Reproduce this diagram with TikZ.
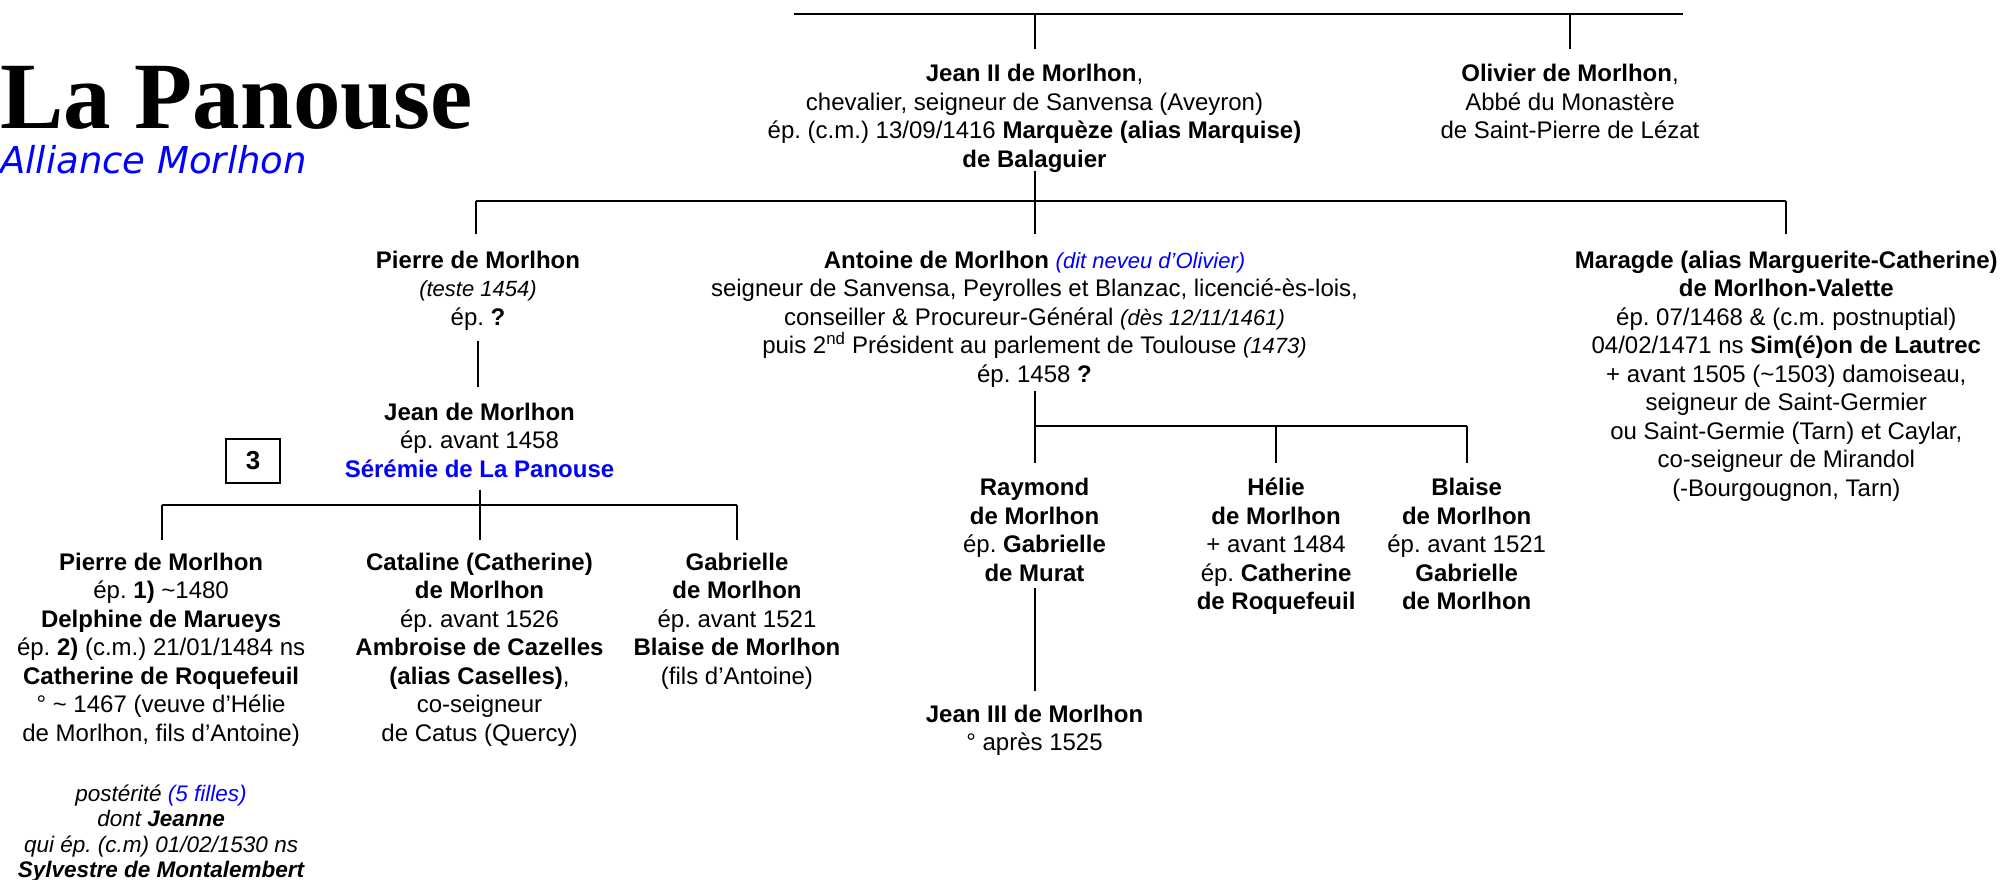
\documentclass[tikz,border=0pt]{standalone}
\usepackage{fontspec}
\setmainfont{Liberation Sans}
\newfontfamily\titlefont{Liberation Serif}
\newfontfamily\subtitlefont{DejaVu Sans}
\definecolor{pblue}{RGB}{0,0,255}
\newcommand{\nsize}{\fontsize{24}{28.5}\selectfont}
\newcommand{\note}[1]{{\fontsize{22}{28.5}\selectfont\itshape #1}}
\tikzset{
  person/.style={align=center, anchor=north, inner sep=0pt, font=\nsize},
  bar/.style={line width=2.6pt},
  drop/.style={line width=2pt},
}
\begin{document}
\frenchspacing
\begin{tikzpicture}[x=1pt,y=-1pt]
\path[use as bounding box, fill=white] (0,0) rectangle (2005,880);

% title
\node[anchor=base west, inner sep=0pt, text depth=0pt, font=\titlefont\bfseries\fontsize{95}{100}\selectfont] (title) at (0,129) {La Panouse};
\node[anchor=base west, inner sep=0pt, font=\subtitlefont\itshape\fontsize{37}{40}\selectfont, text=pblue] (subtitle) at (0,173) {Alliance Morlhon};

% box 3
\node[draw, line width=1.3pt, minimum width=54pt, minimum height=44pt, inner sep=0pt, font=\bfseries\fontsize{26}{28}\selectfont] (box3) at (253,461) {3};

% generation 1
\node[person] (jean2) at (1034.5,61.5) {\strut\textbf{Jean II de Morlhon},\\chevalier, seigneur de Sanvensa (Aveyron)\\ép. (c.m.) 13/09/1416 \textbf{Marquèze (alias Marquise)}\\\textbf{de Balaguier}};
\node[person] (olivier) at (1570,61.5) {\strut\textbf{Olivier de Morlhon},\\Abbé du Monastère\\de Saint-Pierre de Lézat};

% generation 2
\node[person] (pierre) at (478,248.2) {\strut\textbf{Pierre de Morlhon}\\\note{(teste 1454)}\\ép. \textbf{?}};
\node[person] (antoine) at (1034.5,248.2) {\strut\textbf{Antoine de Morlhon} {\color{pblue}\note{(dit neveu d’Olivier)}}\\seigneur de Sanvensa, Peyrolles et Blanzac, licencié-ès-lois,\\conseiller \& Procureur-Général \note{(dès 12/11/1461)}\\puis 2\textsuperscript{nd} Président au parlement de Toulouse \note{(1473)}\\ép. 1458 \textbf{?}};
\node[person] (maragde) at (1786.3,248.2) {\strut\textbf{Maragde (alias Marguerite-Catherine)}\\\textbf{de Morlhon-Valette}\\ép. 07/1468 \& (c.m. postnuptial)\\04/02/1471 ns \textbf{Sim(é)on de Lautrec}\\+ avant 1505 (\textasciitilde1503) damoiseau,\\seigneur de Saint-Germier\\ou Saint-Germie (Tarn) et Caylar,\\co-seigneur de Mirandol\\(-Bourgougnon, Tarn)};

% generation 3
\node[person] (jean) at (479.5,400.3) {\strut\textbf{Jean de Morlhon}\\ép. avant 1458\\{\color{pblue}\textbf{Sérémie de La Panouse}}};
\node[person] (raymond) at (1034.5,475.8) {\strut\textbf{Raymond}\\\textbf{de Morlhon}\\ép. \textbf{Gabrielle}\\\textbf{de Murat}};
\node[person] (helie) at (1276.1,475.8) {\strut\textbf{Hélie}\\\textbf{de Morlhon}\\+ avant 1484\\ép. \textbf{Catherine}\\\textbf{de Roquefeuil}};
\node[person] (blaise) at (1466.7,475.8) {\strut\textbf{Blaise}\\\textbf{de Morlhon}\\ép. avant 1521\\\textbf{Gabrielle}\\\textbf{de Morlhon}};

% generation 4
\node[person] (pierre2) at (161.1,549.9) {\strut\textbf{Pierre de Morlhon}\\ép. \textbf{1)} \textasciitilde1480\\\textbf{Delphine de Marueys}\\ép. \textbf{2)} (c.m.) 21/01/1484 ns\\\textbf{Catherine de Roquefeuil}\\° \textasciitilde{} 1467 (veuve d’Hélie\\de Morlhon, fils d’Antoine)};
\node[person] (cataline) at (479.5,549.9) {\strut\textbf{Cataline (Catherine)}\\\textbf{de Morlhon}\\ép. avant 1526\\\textbf{Ambroise de Cazelles}\\\textbf{(alias Caselles)},\\co-seigneur\\de Catus (Quercy)};
\node[person] (gabrielle) at (737,549.9) {\strut\textbf{Gabrielle}\\\textbf{de Morlhon}\\ép. avant 1521\\\textbf{Blaise de Morlhon}\\(fils d’Antoine)};
\node[person, font=\fontsize{22.5}{25.3}\selectfont\itshape] (posterite) at (161.1,783.5) {\strut postérité {\color{pblue}(5 filles)}\\dont \textbf{Jeanne}\\qui ép. (c.m) 01/02/1530 ns\\\textbf{Sylvestre de Montalembert}};
\node[person] (jean3) at (1034.5,702.1) {\strut\textbf{Jean III de Morlhon}\\° après 1525};

% connectors: top bar
\coordinate (t1) at (794,14);
\coordinate (t2) at (1683,14);
\coordinate (j2top) at (1034.5,49);
\coordinate (oltop) at (1570,49);
\draw[bar] (t1) -- (t2);
\draw[drop] (jean2 |- t1) -- (j2top);
\draw[drop] (olivier |- t1) -- (oltop);

% second bar
\coordinate (b2l) at (475.7,200.8);
\coordinate (b2r) at (1786.3,200.8);
\coordinate (j2bot) at (1034.5,171.3);
\coordinate (pitop) at (475.7,234);
\coordinate (antop) at (1034.5,234);
\coordinate (matop) at (1786.3,234);
\draw[drop] (j2bot) -- (jean2 |- b2l);
\draw[bar] (b2l) -- (b2r);
\draw[drop] (b2l) -- (pitop);
\draw[drop] (antoine |- b2l) -- (antop);
\draw[drop] (b2r) -- (matop);

% Pierre -> Jean
\coordinate (pibot) at (478,341.4);
\coordinate (jetop) at (478,387.4);
\draw[drop] (pibot) -- (jetop);

% Jean -> children
\coordinate (jebot) at (479.5,489.7);
\coordinate (b3l) at (162.4,505);
\coordinate (b3r) at (736.5,505);
\coordinate (p2top) at (162.4,539.6);
\coordinate (catop) at (479.5,539.6);
\coordinate (gatop) at (736.5,539.6);
\draw[drop] (jebot) -- (jebot |- b3l);
\draw[bar] (b3l) -- (b3r);
\draw[drop] (b3l) -- (p2top);
\draw[drop] (jebot |- b3l) -- (catop);
\draw[drop] (b3r) -- (gatop);

% Antoine -> children
\coordinate (anbot) at (1034.5,391.3);
\coordinate (b4r) at (1466.7,425.8);
\coordinate (ratop) at (1034.5,462.9);
\coordinate (hetop) at (1276.1,462.9);
\coordinate (bltop) at (1466.7,462.9);
\draw[drop] (anbot) -- (ratop);
\draw[bar] (anbot |- b4r) -- (b4r);
\draw[drop] (hetop |- b4r) -- (hetop);
\draw[drop] (b4r) -- (bltop);

% Raymond -> Jean III
\coordinate (rabot) at (1034.5,588.2);
\coordinate (j3top) at (1034.5,690.5);
\draw[drop] (rabot) -- (j3top);
\end{tikzpicture}
\end{document}
